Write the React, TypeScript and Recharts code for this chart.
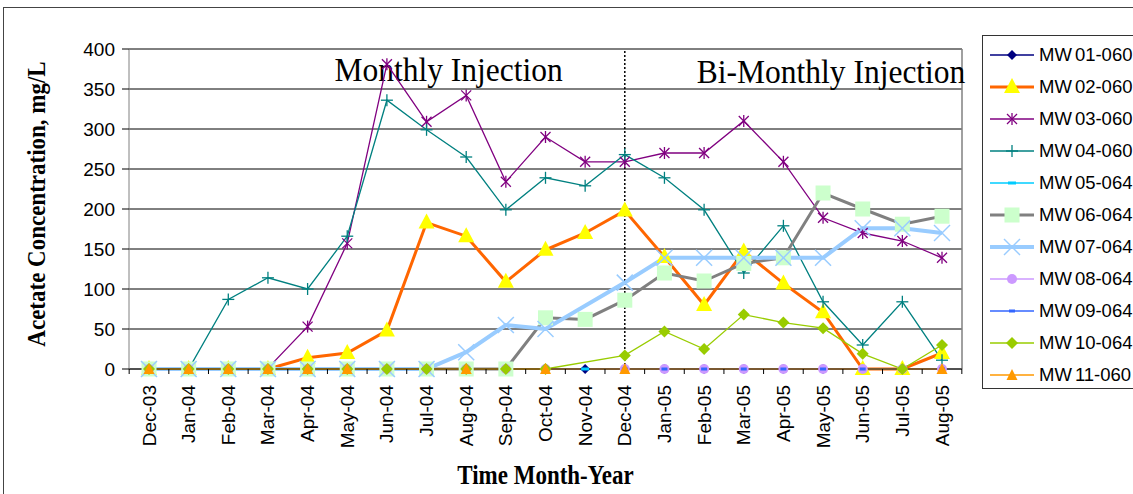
import React from 'react';
import {
  LineChart,
  Line,
  XAxis,
  YAxis,
  CartesianGrid,
  ReferenceLine,
  Legend,
} from 'recharts';

const months = [
  'Dec-03', 'Jan-04', 'Feb-04', 'Mar-04', 'Apr-04', 'May-04', 'Jun-04',
  'Jul-04', 'Aug-04', 'Sep-04', 'Oct-04', 'Nov-04', 'Dec-04', 'Jan-05',
  'Feb-05', 'Mar-05', 'Apr-05', 'May-05', 'Jun-05', 'Jul-05', 'Aug-05',
];

const mw01 = [0, 0, 0, 0, 0, 0, 0, 0, 0, 0, 0, 0, 0, 0, 0, 0, 0, 0, 0, 0, 0];
const mw02 = [0, 0, 0, 0, 14, 20, 48, 183, 166, 109, 149, 170, 198, 140, 80, 147, 107, 71, 0, 0, 20];
const mw03 = [0, 0, 0, 1, 53, 157, 381, 309, 342, 234, 290, 259, 259, 270, 270, 310, 259, 189, 170, 160, 139];
const mw04 = [0, 0, 87, 114, 100, 166, 336, 299, 265, 199, 239, 229, 268, 239, 199, 120, 179, 84, 30, 84, 11];
const mw05 = [0, 0, 0, 0, 0, 0, 0, 0, 0, 0, 0, 0, 0, 0, 0, 0, 0, 0, 0, 0, 0];
const mw06 = [0, 0, 0, 0, 0, 0, 0, 0, 0, 0, 64, 62, 86, 120, 110, 132, 139, 220, 200, 181, 191];
const mw07 = [0, 0, 0, 0, 0, 0, 0, 0, 21, 55, 50, null, 108, 139, 139, 139, 139, 139, 176, 176, 170];
const mw08 = [0, 0, 0, 0, 0, 0, 0, 0, 0, 0, 0, null, 0, 0, 0, 0, 0, 0, 0, 0, 0];
const mw09 = [0, 0, 0, 0, 0, 0, 0, 0, 0, 0, 0, null, 0, 0, 0, 0, 0, 0, 0, 0, 0];
const mw10 = [0, 0, 0, 0, 0, 0, 0, 0, 0, 0, 0, null, 17, 47, 25, 68, 58, 51, 19, 0, 30];
const mw11 = [0, 0, 0, 0, 0, 0, null, null, 0, null, 0, null, 0, null, null, null, null, null, null, null, 0];

const yTicks = [0, 50, 100, 150, 200, 250, 300, 350, 400];

const series = [
  { name: 'MW01-060', values: mw01, color: '#000080', width: 1.3, marker: 'diamond', fill: '#000080' },
  { name: 'MW02-060', values: mw02, color: '#FF6600', width: 3, marker: 'bigTriangle', fill: '#FFFF00' },
  { name: 'MW03-060', values: mw03, color: '#800080', width: 1.3, marker: 'star', fill: '#800080' },
  { name: 'MW04-060', values: mw04, color: '#008080', width: 1.3, marker: 'plus', fill: '#008080' },
  { name: 'MW05-064', values: mw05, color: '#00CCFF', width: 1.3, marker: 'dash', fill: '#00CCFF' },
  { name: 'MW06-064', values: mw06, color: '#808080', width: 3, marker: 'square', fill: '#CCFFCC' },
  { name: 'MW07-064', values: mw07, color: '#99CCFF', width: 4, marker: 'cross', fill: '#99CCFF' },
  { name: 'MW08-064', values: mw08, color: '#CC99FF', width: 1.3, marker: 'circle', fill: '#CC99FF' },
  { name: 'MW09-064', values: mw09, color: '#3366FF', width: 1.3, marker: 'smallDash', fill: '#3366FF' },
  { name: 'MW10-064', values: mw10, color: '#99CC00', width: 1.3, marker: 'diamondBig', fill: '#99CC00' },
  { name: 'MW11-060', values: mw11, color: '#FF9900', width: 1.3, marker: 'triangle', fill: '#FF9900' },
];

const rows = months.map((month, i) => {
  const row: Record<string, any> = { month };
  series.forEach((s) => {
    row[s.name] = s.values[i];
  });
  return row;
});

const HALF_BAND = 19.83;
const SERIF = '"Liberation Serif", "Times New Roman", serif';
const SANS = 'Arial, "Liberation Sans", sans-serif';

function Marker({ kind, cx, cy, fill }: { kind: string; cx: number; cy: number; fill: string }) {
  switch (kind) {
    case 'diamond':
      return <polygon points={`${cx},${cy - 5} ${cx + 5},${cy} ${cx},${cy + 5} ${cx - 5},${cy}`} fill={fill} />;
    case 'diamondBig':
      return <polygon points={`${cx},${cy - 6} ${cx + 6},${cy} ${cx},${cy + 6} ${cx - 6},${cy}`} fill={fill} />;
    case 'bigTriangle':
      return <polygon points={`${cx},${cy - 9} ${cx + 8},${cy + 6} ${cx - 8},${cy + 6}`} fill={fill} />;
    case 'triangle':
      return <polygon points={`${cx},${cy - 6} ${cx + 5.5},${cy + 5} ${cx - 5.5},${cy + 5}`} fill={fill} />;
    case 'star':
      return (
        <g stroke={fill} strokeWidth={1.3}>
          <line x1={cx - 5} y1={cy - 5} x2={cx + 5} y2={cy + 5} />
          <line x1={cx - 5} y1={cy + 5} x2={cx + 5} y2={cy - 5} />
          <line x1={cx} y1={cy - 6} x2={cx} y2={cy + 6} />
        </g>
      );
    case 'plus':
      return (
        <g stroke={fill} strokeWidth={1.3}>
          <line x1={cx - 6} y1={cy} x2={cx + 6} y2={cy} />
          <line x1={cx} y1={cy - 6} x2={cx} y2={cy + 6} />
        </g>
      );
    case 'dash':
      return <rect x={cx - 4} y={cy - 1.5} width={8} height={3} fill={fill} />;
    case 'smallDash':
      return <rect x={cx - 3} y={cy - 1.5} width={6} height={3} fill={fill} />;
    case 'square':
      return <rect x={cx - 7.5} y={cy - 7.5} width={15} height={15} fill={fill} />;
    case 'cross':
      return (
        <g stroke={fill} strokeWidth={1.5}>
          <line x1={cx - 8} y1={cy - 8} x2={cx + 8} y2={cy + 8} />
          <line x1={cx - 8} y1={cy + 8} x2={cx + 8} y2={cy - 8} />
        </g>
      );
    case 'circle':
      return <circle cx={cx} cy={cy} r={5} fill={fill} />;
    default:
      return null;
  }
}

function XTick(props: any) {
  const { x, y, payload, index } = props;
  return (
    <g>
      {index === 0 && (
        <line x1={x - HALF_BAND} y1={y} x2={x - HALF_BAND} y2={y + 5} stroke="#000" />
      )}
      <line x1={x + HALF_BAND} y1={y} x2={x + HALF_BAND} y2={y + 5} stroke="#000" />
      <text
        x={x + 6.5}
        y={y + 16}
        transform={`rotate(-90, ${x + 6.5}, ${y + 16})`}
        textAnchor="end"
        fontFamily={SANS}
        fontSize={19}
        fill="#000"
      >
        {payload.value}
      </text>
    </g>
  );
}

function LegendBox() {
  return (
    <div
      style={{
        width: 170,
        height: 354,
        border: '1px solid #333',
        background: '#fff',
        boxSizing: 'border-box',
        paddingTop: 3,
      }}
    >
      {series.map((s) => (
        <div key={s.name} style={{ height: 32, display: 'flex', alignItems: 'center' }}>
          <svg width={52} height={32} style={{ flex: 'none' }}>
            <line x1={7} y1={16} x2={51} y2={16} stroke={s.color} strokeWidth={s.width} />
            <Marker kind={s.marker} cx={29} cy={16} fill={s.fill} />
          </svg>
          <span
            style={{
              marginLeft: 4,
              fontFamily: SANS,
              fontSize: 18.5,
              color: '#000',
              whiteSpace: 'nowrap',
            }}
          >
            <span style={{ marginRight: 3 }}>{s.name.slice(0, 2)}</span>
            {s.name.slice(2)}
          </span>
        </div>
      ))}
    </div>
  );
}

export default function App() {
  return (
    <div
      style={{
        position: 'fixed',
        left: 0,
        top: 0,
        width: 1133,
        height: 494,
        overflow: 'hidden',
        background: '#fff',
      }}
    >
      <div
        style={{
          position: 'absolute',
          left: 3,
          top: 7,
          width: 1200,
          height: 600,
          border: '1px solid #444',
        }}
      />
      <LineChart
        width={1133}
        height={494}
        data={rows}
        margin={{ top: 49, right: 171, bottom: 45, left: 69 }}
      >
        <CartesianGrid horizontal vertical={false} stroke="#000" strokeWidth={1} />
        <CartesianGrid
          horizontal={false}
          vertical
          verticalPoints={[962]}
          stroke="#808080"
          strokeWidth={1.5}
        />
        <XAxis
          dataKey="month"
          interval={0}
          padding={{ left: 20, right: 20 }}
          tickSize={0}
          tickMargin={0}
          height={80}
          axisLine={{ stroke: '#222' }}
          tickLine={false}
          tick={(p: any) => <XTick {...p} />}
          label={(p: any) => {
            const vb = p.viewBox;
            const cx = vb.x + vb.width / 2;
            return (
              <text
                transform={`translate(${cx}, 484) scale(1, 1.15)`}
                textAnchor="middle"
                fontFamily={SERIF}
                fontWeight="bold"
                fontSize={23}
                fill="#000"
              >
                Time Month-Year
              </text>
            );
          }}
        />
        <YAxis
          domain={[0, 400]}
          ticks={yTicks}
          width={60}
          tickSize={7}
          tickMargin={7}
          interval={0}
          axisLine={{ stroke: '#808080' }}
          tickLine={{ stroke: '#000' }}
          tick={{ fill: '#000', fontSize: 19, fontFamily: SANS }}
          label={(p: any) => {
            const vb = p.viewBox;
            const cy = vb.y + vb.height / 2 - 5;
            return (
              <text
                transform={`translate(45, ${cy}) rotate(-90) scale(1, 1.1)`}
                textAnchor="middle"
                fontFamily={SERIF}
                fontWeight="bold"
                fontSize={23}
                fill="#000"
              >
                Acetate Concentration, mg/L
              </text>
            );
          }}
        />
        <ReferenceLine
          x="Dec-04"
          stroke="#000"
          strokeWidth={1.5}
          strokeDasharray="2 2"
          label={(p: any) => {
            const vb = p.viewBox;
            return (
              <g>
                <text
                  transform={`translate(${vb.x - 62}, ${vb.y + 32}) scale(1, 1.1)`}
                  textAnchor="end"
                  fontFamily={SERIF}
                  fontSize={31.5}
                  fill="#000"
                >
                  Monthly Injection
                </text>
                <text
                  transform={`translate(${vb.x + 72}, ${vb.y + 34}) scale(1, 1.1)`}
                  textAnchor="start"
                  fontFamily={SERIF}
                  fontSize={31.5}
                  fill="#000"
                >
                  Bi-Monthly Injection
                </text>
              </g>
            );
          }}
        />
        {series.map((s) => (
          <Line
            key={s.name}
            type="linear"
            dataKey={s.name}
            stroke={s.color}
            strokeWidth={s.width}
            connectNulls
            isAnimationActive={false}
            activeDot={false}
            dot={(p: any) => {
              if (p.cx == null || p.cy == null || p.value == null) {
                return <g key={`${s.name}-${p.index}`} />;
              }
              return (
                <g key={`${s.name}-${p.index}`}>
                  <Marker kind={s.marker} cx={p.cx} cy={p.cy} fill={s.fill} />
                </g>
              );
            }}
          />
        ))}
        <Legend
          layout="vertical"
          align="center"
          verticalAlign="middle"
          wrapperStyle={{ position: 'absolute', left: 982, top: 35, width: 170, height: 354 }}
          content={() => <LegendBox />}
        />
      </LineChart>
    </div>
  );
}
